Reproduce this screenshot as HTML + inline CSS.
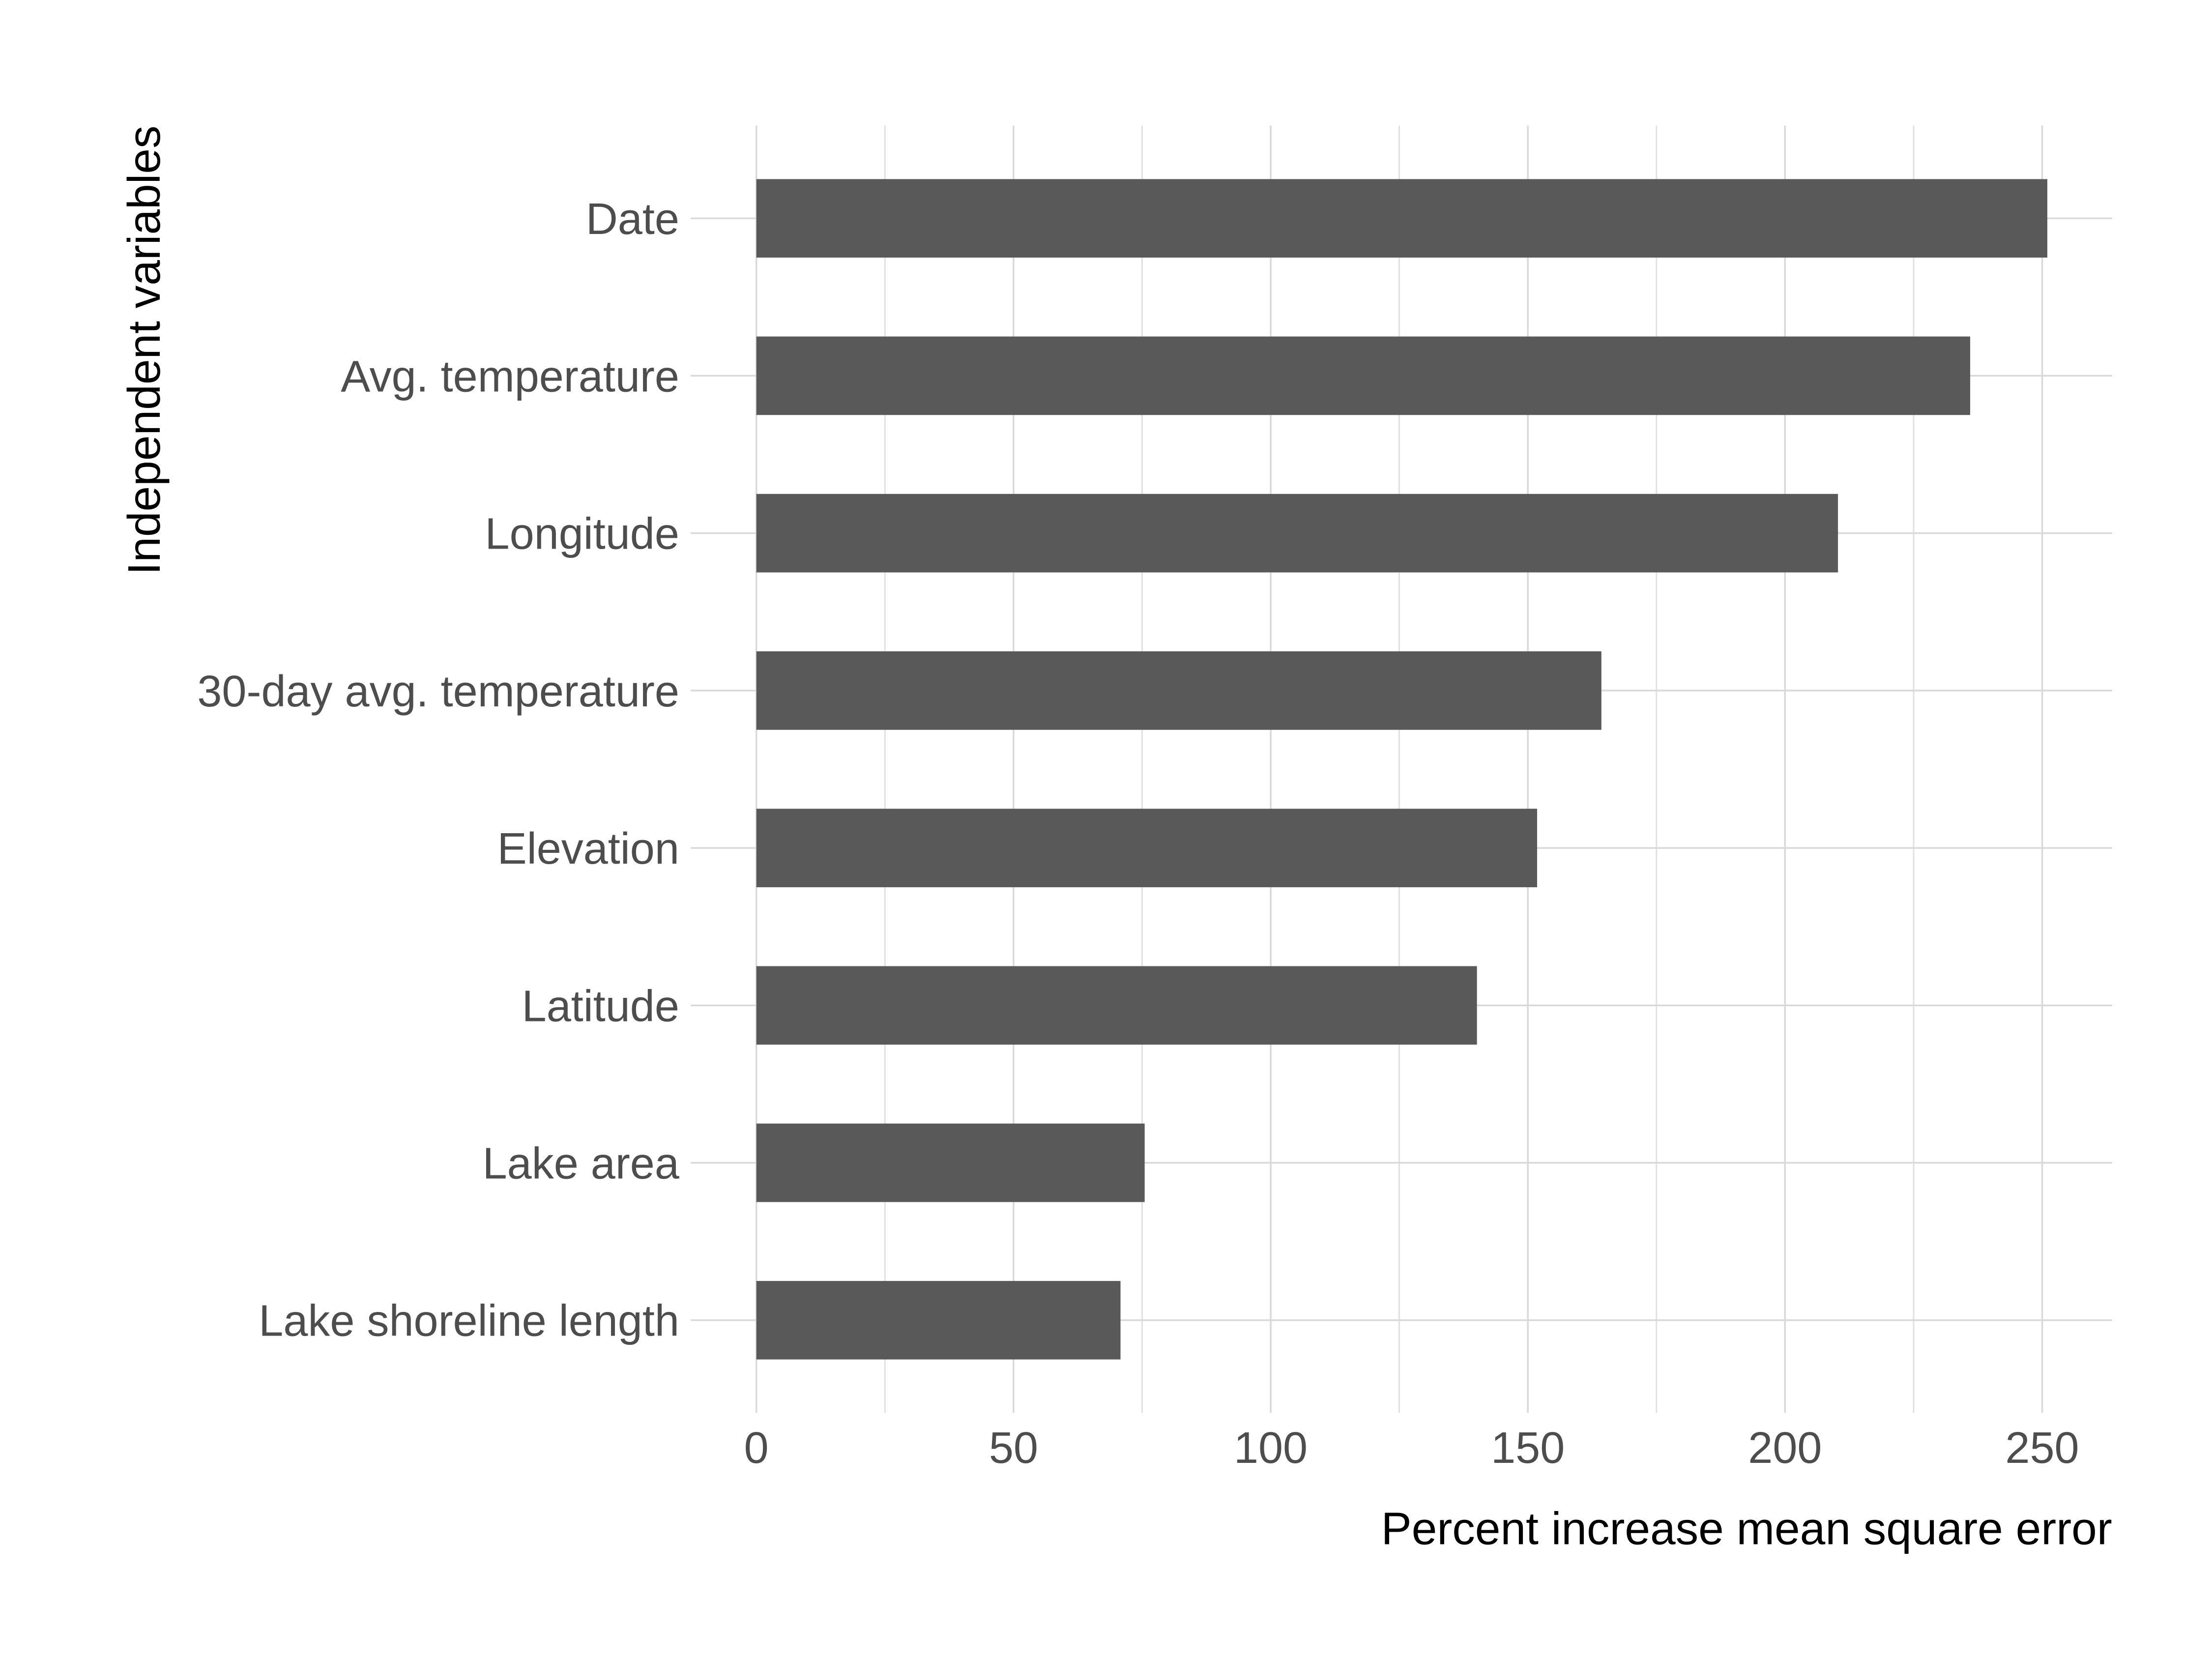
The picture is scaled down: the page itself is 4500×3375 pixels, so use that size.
<!DOCTYPE html>
<html><head><meta charset="utf-8"><style>
html,body{margin:0;padding:0;background:#fff;}
svg{display:block;}
text{font-family:"Liberation Sans Narrow","Liberation Sans",sans-serif;font-stretch:condensed;}
</style></head><body>
<svg id="chart" width="4500" height="3375" viewBox="0 0 1550 1162.5" xmlns="http://www.w3.org/2000/svg">
<rect width="1550" height="1162.5" fill="#fff"/>
<g id="grid"></g>
<g id="bars"></g>
<g id="labels"></g>
<text x="1480" y="1082" text-anchor="end" font-size="32" fill="#000">Percent increase mean square error</text>
<text transform="translate(112,88) rotate(-90)" text-anchor="end" font-size="32" fill="#000">Independent variables</text>
</svg>
<script>
const categories = ["Date","Avg. temperature","Longitude","30-day avg. temperature","Elevation","Latitude","Lake area","Lake shoreline length"];
const values = [251, 236, 210.3, 164.3, 151.8, 140.1, 75.5, 70.8];
const xTicks = [0, 50, 100, 150, 200, 250];
const xMinor = [25, 75, 125, 175, 225];

const NS = "http://www.w3.org/2000/svg";
const x0 = 530, pxPerUnit = 901/250, yTop = 88, yBot = 990, xRight = 1480;
const xs = v => x0 + v * pxPerUnit;
const yc = i => 153 + i * 110.3;
const barH = 55;
function mk(tag, attrs, parent){const e=document.createElementNS(NS,tag);for(const k in attrs)e.setAttribute(k,attrs[k]);parent.appendChild(e);return e;}
const grid=document.getElementById('grid'), bars=document.getElementById('bars'), labels=document.getElementById('labels');
xMinor.forEach(v=>{
  const l=mk('line',{x1:xs(v),x2:xs(v),y1:yTop,y2:yBot,stroke:'#e0e0e0','stroke-width':1},grid);
  
  
});
xTicks.forEach(v=>{
  const l=mk('line',{x1:xs(v),x2:xs(v),y1:yTop,y2:yBot,stroke:'#d9d9d9','stroke-width':1.2},grid);
  
  
  const t=mk('text',{x:xs(v),y:1025,'text-anchor':'middle','font-size':31,fill:'#4d4d4d'},labels);
  t.textContent=v;
  
  
});
categories.forEach((c,i)=>{
  const l=mk('line',{x1:484,x2:xRight,y1:yc(i),y2:yc(i),stroke:'#d9d9d9','stroke-width':1.2},grid);
  
  
  const r=mk('rect',{x:x0,y:yc(i)-barH/2,width:xs(values[i])-x0,height:barH,fill:'#595959'},bars);
  
  
  const t=mk('text',{x:476,y:yc(i)+11,'text-anchor':'end','font-size':31,fill:'#4d4d4d'},labels);
  t.textContent=c;
  
  
});
</script>
</body></html>
